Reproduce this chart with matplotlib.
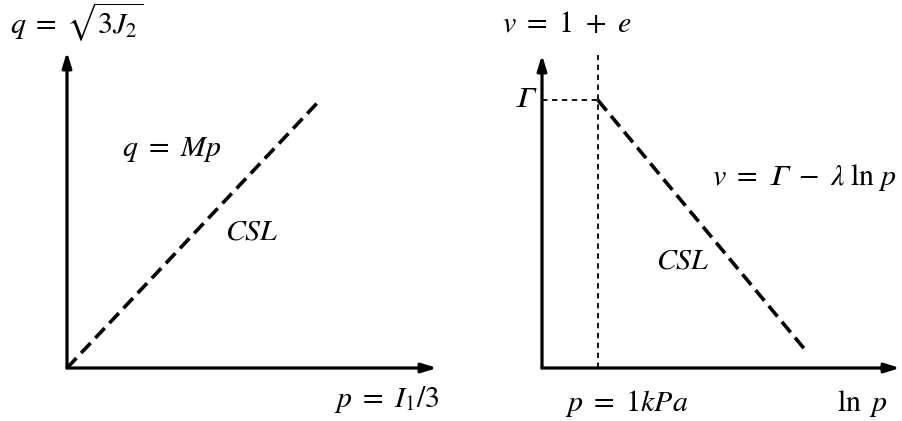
import numpy as np
import matplotlib.pyplot as plt

plt.rcParams['mathtext.fontset'] = 'stix'
plt.rcParams['font.family'] = 'STIXGeneral'

# q-p plane: critical state line q = M p
p_csl = np.array([0.0, 0.684])
M = 1.24
q_csl = M * p_csl

# v-ln p plane: v = Gamma - lambda ln p (ln p measured from p = 1 kPa)
lnp_ref = 0.156
Gamma = 0.856
lam = 1.378
lnp_csl = np.array([lnp_ref, 0.740])
v_csl = Gamma - lam * (lnp_csl - lnp_ref)

fs = 21.5
G = '\U0001D6E4'  # italic capital gamma

fig = plt.figure(figsize=(9.02, 4.21), dpi=100)
ax1 = fig.add_axes([67 / 902, 53 / 421, 370 / 902, 316 / 421])
ax2 = fig.add_axes([542 / 902, 53 / 421, 358 / 902, 313 / 421])

for ax in (ax1, ax2):
    ax.set_xlim(0, 1)
    ax.set_ylim(0, 1)
    ax.axis('off')
    # axes drawn as arrows
    ax.annotate('', xy=(1.0, 0), xytext=(0, 0), xycoords='data',
                arrowprops=dict(arrowstyle='-|>,head_length=0.9,head_width=0.28',
                                lw=2.3, color='black', shrinkA=0, shrinkB=0),
                annotation_clip=False)
    ax.annotate('', xy=(0, 1.0), xytext=(0, 0), xycoords='data',
                arrowprops=dict(arrowstyle='-|>,head_length=0.9,head_width=0.28',
                                lw=2.3, color='black', shrinkA=0, shrinkB=0),
                annotation_clip=False)

# left panel
l1, = ax1.plot(p_csl, q_csl, color='black', lw=2.6, solid_capstyle='butt')
l1.set_dashes((3.8, 1.9))
ax1.text(-0.154, 1.095, r'$q\;=\;\sqrt{3J_2}$', fontsize=fs, ha='left', va='center')
ax1.text(0.149, 0.69, r'$q\ =\ Mp$', fontsize=fs, ha='left', va='center')
ax1.text(0.427, 0.427, r'$CSL$', fontsize=fs, ha='left', va='center')
ax1.text(1.008, -0.10, r'$p\ =\ I_1/3$', fontsize=fs, ha='right', va='center')

# right panel
l2, = ax2.plot(lnp_csl, v_csl, color='black', lw=2.6, solid_capstyle='butt')
l2.set_dashes((3.8, 1.9))
ax2.plot([0, lnp_ref], [Gamma, Gamma], color='black', lw=1.3, dashes=(3, 2.5))
ax2.plot([lnp_ref, lnp_ref], [0, 1.0], color='black', lw=1.3, dashes=(3, 2.5))
ax2.text(-0.112, 1.096, r'$v\ =\ 1\ +\ e$', fontsize=fs, ha='left', va='center')
ax2.text(-0.012, Gamma, '$' + G + '$', fontsize=fs, ha='right', va='center')
ax2.text(0.475, 0.61, r'$v\ =\ ' + G + r'\ -\ \lambda\;\ln\, p$', fontsize=fs,
         ha='left', va='center')
ax2.text(0.318, 0.339, r'$CSL$', fontsize=fs, ha='left', va='center')
ax2.text(0.064, -0.112, r'$p\ =\ 1kPa$', fontsize=fs, ha='left', va='center')
ax2.text(0.824, -0.112, r'$\ln\ p$', fontsize=fs, ha='left', va='center')

fig.savefig('out.png', dpi=100)
